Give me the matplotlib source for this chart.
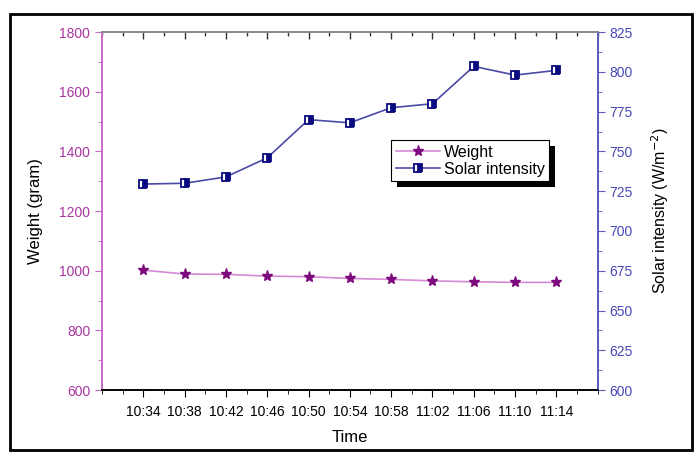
import matplotlib

matplotlib.use("Agg")
import matplotlib.pyplot as plt
from matplotlib.patches import Rectangle
from matplotlib.ticker import MultipleLocator, NullFormatter

plt.rcParams["font.family"] = ["Liberation Sans", "DejaVu Sans"]

times = ["10:34", "10:38", "10:42", "10:46", "10:50", "10:54",
         "10:58", "11:02", "11:06", "11:10", "11:14"]
weight = [1002, 989, 988, 982, 980, 974, 971, 966, 963, 961, 961]
solar = [729.5, 730, 734, 746, 770, 768, 777.5, 780, 803.5, 798, 801]

WEIGHT_LINE = "#d58ad5"
WEIGHT_MARK = "#7d0a7d"
WEIGHT_AXIS = "#c86bc8"
WEIGHT_TEXT = "#a8359e"
SOLAR_LINE = "#4a4aa6"
SOLAR_MARK = "#0a0a80"
SOLAR_AXIS = "#5a5ac0"
SOLAR_TEXT = "#4848b8"

fig = plt.figure(figsize=(6.99, 4.53), dpi=100)
fig.patches.append(Rectangle((0.015, 0.007), 0.975, 0.962, transform=fig.transFigure,
                             fill=False, edgecolor="black", lw=2))
ax = fig.add_axes([0.146, 0.139, 0.709, 0.790])
ax2 = ax.twinx()

x = list(range(1, len(times) + 1))
ax.plot(x, weight, color=WEIGHT_LINE, lw=1.2, marker="*", ms=8,
        mfc=WEIGHT_MARK, mec=WEIGHT_MARK, label="Weight")
ax2.plot(x, solar, color=SOLAR_LINE, lw=1.2, marker="s", ms=5.5,
         fillstyle="right", mfc=SOLAR_MARK, mfcalt="white", mec=SOLAR_MARK,
         mew=1.3, label="Solar intensity")

ax.set_xlim(0, 12)
ax.set_ylim(600, 1800)
ax2.set_ylim(600, 825)
ax.set_xticks(x)
ax.set_xticklabels(times)
ax.xaxis.set_minor_locator(MultipleLocator(0.5))
ax.yaxis.set_major_locator(MultipleLocator(200))
ax.yaxis.set_minor_locator(MultipleLocator(100))
ax2.yaxis.set_major_locator(MultipleLocator(25))
ax2.yaxis.set_minor_locator(MultipleLocator(12.5))

ax.tick_params(axis="x", which="both", direction="out", labelsize=10,
               colors="black", pad=6)
ax.tick_params(axis="x", which="major", length=5)
ax.tick_params(axis="x", which="minor", length=3)
ax.tick_params(axis="y", which="major", length=5, color=WEIGHT_AXIS,
               labelcolor=WEIGHT_TEXT, labelsize=10)
ax.tick_params(axis="y", which="minor", length=3, color=WEIGHT_AXIS)
ax2.tick_params(axis="y", which="major", length=5, color=SOLAR_AXIS,
                labelcolor=SOLAR_TEXT, labelsize=10)
ax2.tick_params(axis="y", which="minor", length=3, color=SOLAR_AXIS)

# inward ticks along the grey top edge
top = ax.secondary_xaxis("top")
top.set_xticks(x)
top.xaxis.set_minor_locator(MultipleLocator(0.5))
top.xaxis.set_major_formatter(NullFormatter())
top.tick_params(which="both", direction="in", color="#333333", width=1)
top.tick_params(which="major", length=5)
top.tick_params(which="minor", length=3)
top.spines["top"].set_color("#8a8a8a")
top.spines["top"].set_linewidth(1.2)

for a in (ax, ax2):
    a.spines["top"].set_color("#8a8a8a")
    a.spines["bottom"].set_color("black")
    a.spines["left"].set_color(WEIGHT_AXIS)
    a.spines["right"].set_color(SOLAR_AXIS)
    for s in a.spines.values():
        s.set_linewidth(1.2)

ax.set_xlabel("Time", fontsize=12, labelpad=8)
ax.set_ylabel("Weight (gram)", fontsize=12, labelpad=12)
ax2.set_ylabel("Solar intensity (W/m$^{-2}$)", fontsize=11.5, labelpad=12)

h1, l1 = ax.get_legend_handles_labels()
h2, l2 = ax2.get_legend_handles_labels()
leg = ax2.legend(h1 + h2, l1 + l2, loc="upper left", bbox_to_anchor=(0.583, 0.698),
                 fontsize=11.5, frameon=True, fancybox=False, shadow=False,
                 framealpha=1, borderpad=0.3, labelspacing=0.1, handlelength=2.8,
                 handletextpad=0.2, borderaxespad=0)
leg.get_frame().set_edgecolor("black")
leg.get_frame().set_linewidth(0.8)
leg.set_zorder(6)

# solid black drop shadow offset down-right from the legend box
fig.canvas.draw()
bb = leg.get_window_extent().transformed(fig.transFigure.inverted())
dx, dy = 6 / fig.bbox.width, 6 / fig.bbox.height
ax2.add_patch(Rectangle((bb.x0 + dx, bb.y0 - dy), bb.width, bb.height,
                        transform=fig.transFigure, facecolor="black",
                        edgecolor="none", zorder=5, clip_on=False))

fig.savefig("out.png", dpi=100)
